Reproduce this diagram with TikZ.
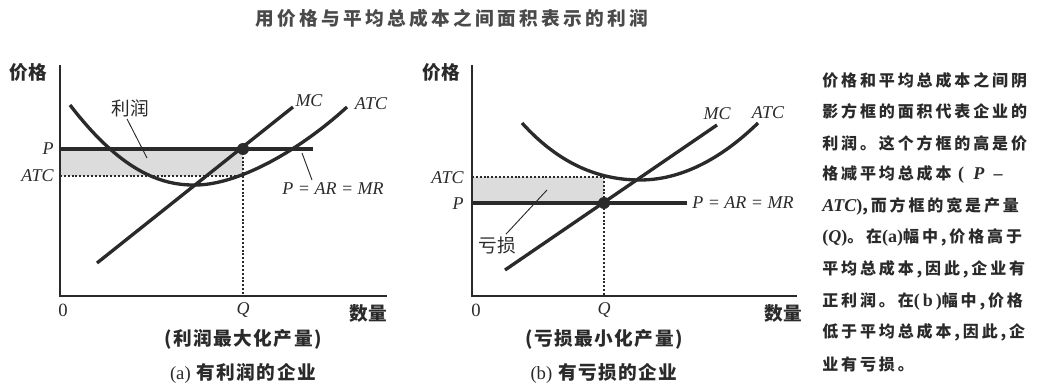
\documentclass[tikz,border=0pt]{standalone}
\usepackage{fontspec}
\setmainfont{Liberation Serif}
\newfontfamily\cjk{Noto Sans CJK SC}
\newfontfamily\cjknote[LetterSpace=18]{Noto Sans CJK SC}
\newfontfamily\cjkcap[LetterSpace=8]{Noto Sans CJK SC}
\newfontfamily\cjktitle[LetterSpace=18]{Noto Sans CJK SC}
\newcommand\lat[1]{{\normalfont\bfseries\fontsize{13.5}{14}\selectfont #1}}
\newcommand\latit[1]{{\normalfont\bfseries\itshape\fontsize{13.5}{14}\selectfont #1}}
\usetikzlibrary{positioning}
\definecolor{ink}{HTML}{2A2A2A}
\definecolor{boxgray}{HTML}{DCDCDC}

\begin{document}
\begin{tikzpicture}[x=0.75pt,y=-0.75pt,
  curve/.style={line width=2.5pt,draw=ink},
  axis/.style={line width=1.9pt,draw=ink},
  guide/.style={line width=1.8pt,draw=ink,dash pattern=on 1.5pt off 1.4pt},
  lead/.style={line width=0.7pt,draw=ink},
  sym/.style={font=\fontsize{13.5}{16}\selectfont\itshape,text=ink,inner sep=0pt},
  num/.style={font=\fontsize{14}{16}\selectfont,text=ink,inner sep=0pt},
  hz/.style={font=\cjk\fontsize{14}{16}\selectfont,text=ink,inner sep=0pt},
  hzb/.style={font=\cjk\bfseries\fontsize{14}{16}\selectfont,text=ink,inner sep=0pt},
  capt/.style={font=\cjkcap\bfseries\fontsize{14}{16}\selectfont,text=ink,inner sep=0pt},
  note/.style={font=\cjknote\bfseries\fontsize{12}{14}\selectfont,text=ink,inner sep=0pt,anchor=west}]
\useasboundingbox (0,0) rectangle (1041,388);

% title
\node[font=\cjktitle\bfseries\fontsize{14}{16}\selectfont,text=ink!85,inner sep=0pt]
  (title) at (452,18) {用价格与平均总成本之间面积表示的利润};

% ---- (a) profit ----
\fill[boxgray] (60,149) rectangle (243,176);
\draw[guide] (60,176) -- (243,176);
\draw[guide] (243,149) -- (243,296);
\draw[axis] (60,65) -- (60,296) -- (387,296);
\draw[curve] (70,105) .. controls (120,170) and (160,186) .. (197,185)
  .. controls (240,184) and (300,150) .. (347,107);
\draw[curve] (97,263) -- (293,107);
\draw[curve] (60,149) -- (313,149);
\fill[ink] (243,149) circle (6);

\node[hzb] (ya) at (28,72) {价格};
\node[hzb] (xa) at (368,313) {数量};
\node[sym,anchor=east] (pa) at (54,149) {P};
\node[sym,anchor=east] (atca) at (54,176) {ATC};
\node[num] (oa) at (63,310) {0};
\node[sym] (qa) at (243,310) {Q};
\node[sym] (mca) at (309,101) {MC};
\node[sym] (atcca) at (371,104) {ATC};
\node[sym] (pra) at (333,189) {P = AR = MR};
\node[hz] (profit) at (130,108) {利润};
\coordinate (profitpt) at (147,158);
\coordinate (prpta) at (302,153);
\coordinate (prfoota) at (312,180);
\draw[lead] (profit.south) ++(-3,2) -- (profitpt);
\draw[lead] (prfoota) -- (prpta);
\node[capt] (capa1) at (243,339) {(利润最大化产量)};
\node[capt] (capa2) at (243,373) {{\normalfont\fontsize{14}{16}\selectfont(a)} 有利润的企业};

% ---- (b) loss ----
\fill[boxgray] (472,177) rectangle (604,203);
\draw[guide] (472,177) -- (604,177);
\draw[guide] (604,177) -- (604,296);
\draw[axis] (472,65) -- (472,296) -- (797,296);
\draw[curve] (522,123) .. controls (560,165) and (600,180) .. (640,180)
  .. controls (680,180) and (720,160) .. (758,123);
\draw[curve] (505,270) -- (717,125);
\draw[curve] (472,203) -- (687,203);
\fill[ink] (604,203) circle (6);

\node[hzb] (yb) at (441,72) {价格};
\node[hzb] (xb) at (783,313) {数量};
\node[sym,anchor=east] (atcb) at (464,178) {ATC};
\node[sym,anchor=east] (pb) at (464,204) {P};
\node[num] (ob) at (476,310) {0};
\node[sym] (qb) at (604,310) {Q};
\node[sym] (mcb) at (717,114) {MC};
\node[sym] (atccb) at (768,113) {ATC};
\node[sym,anchor=west] (prb) at (692,203) {P = AR = MR};
\node[hz] (loss) at (497,245) {亏损};
\coordinate (losspt) at (547,190);
\draw[lead] (loss.north) ++(9,-2) -- (losspt);
\node[capt] (capb1) at (604,339) {(亏损最小化产量)};
\node[capt] (capb2) at (604,373) {{\normalfont\fontsize{14}{16}\selectfont(b)} 有亏损的企业};

% ---- note ----
\foreach \txt [count=\i] in {
  {价格和平均总成本之间阴},
  {影方框的面积代表企业的},
  {利润。这个方框的高是价},
  {格减平均总成本 \lat{(}\, \latit{P}\, \lat{–}},
  {\latit{ATC}\lat{)},而方框的宽是产量},
  {\lat{(}\latit{Q}\lat{)}。在\lat{(a)}幅中,价格高于},
  {平均总成本,因此,企业有},
  {正利润。在\lat{(\,b\,)}幅中,价格},
  {低于平均总成本,因此,企},
  {业有亏损。}} {
\node[note] (note\i) at (822,{80+31.6*(\i-1)}) {\txt};
}
\end{tikzpicture}
\end{document}
